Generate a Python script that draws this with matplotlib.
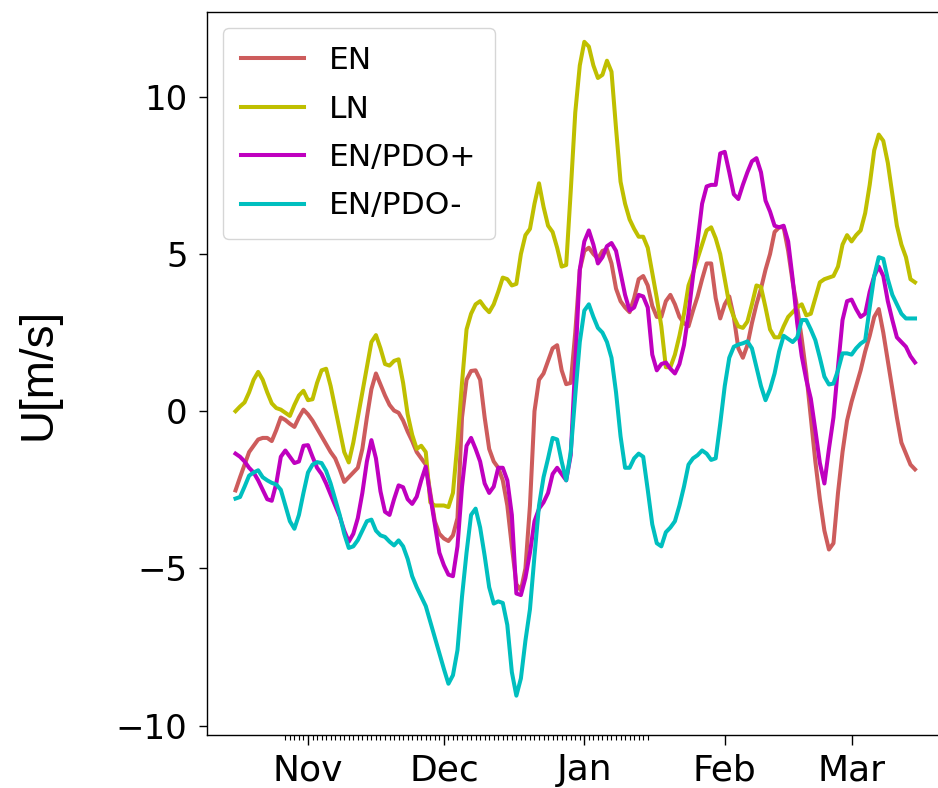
import matplotlib
matplotlib.use("Agg")
import matplotlib.pyplot as plt
import matplotlib.dates as mdates
import numpy as np
import pandas as pd

# Daily zonal wind composites, 16 Oct - 15 Mar
start_date = "2000-10-16"
n_days = 151

en = [
    -2.52, -2.1, -1.7, -1.3, -1.1, -0.9, -0.85, -0.85, -0.95, -0.6,
    -0.2, -0.28, -0.4, -0.5, -0.2, 0.05, -0.1, -0.3, -0.55, -0.8,
    -1.05, -1.3, -1.5, -1.85, -2.25, -2.1, -1.95, -1.8, -1.2, -0.2,
    0.7, 1.2, 0.85, 0.5, 0.2, 0.02, -0.05, -0.3, -0.65, -0.95,
    -1.3, -1.5, -1.7, -2.6, -3.5, -3.9, -4.05, -4.13, -3.95, -3.4,
    -0.2, 1.0, 1.28, 1.3, 1.0, -0.2, -1.2, -1.6, -1.8, -2.2,
    -3.0, -4.3, -5.5, -5.7, -5.0, -3.0, 0.0, 1.0, 1.2, 1.6,
    2.0, 2.1, 1.3, 0.86, 0.9, 2.5, 4.5, 5.1, 5.2, 5.0,
    4.85, 5.1, 5.15, 4.7, 3.9, 3.5, 3.3, 3.15, 3.6, 4.2,
    4.3, 4.0, 3.35, 3.0, 3.0, 3.5, 3.7, 3.4, 3.0, 2.8,
    2.7, 3.2, 3.65, 4.2, 4.7, 4.7, 3.6, 2.95, 3.4, 3.65,
    3.0, 2.0, 1.7, 2.1, 2.8, 3.4, 3.9, 4.5, 5.0, 5.7,
    5.85, 5.85, 5.1, 4.1, 3.3, 2.3, 1.2, -0.2, -1.6, -2.8,
    -3.8, -4.4, -4.2, -2.6, -1.3, -0.3, 0.3, 0.8, 1.3, 1.9,
    2.4, 3.0, 3.25, 2.5, 1.6, 0.7, -0.2, -1.0, -1.35, -1.7,
    -1.85,
]

ln = [
    0.0, 0.15, 0.28, 0.6, 1.0, 1.25, 1.0, 0.6, 0.25, 0.1,
    0.05, -0.05, -0.15, 0.2, 0.5, 0.65, 0.35, 0.38, 0.9, 1.3,
    1.35, 0.8, 0.1, -0.6, -1.3, -1.63, -1.0, -0.2, 0.6, 1.4,
    2.2, 2.42, 2.0, 1.5, 1.45, 1.6, 1.65, 0.9, -0.1, -0.75,
    -1.2, -1.1, -1.3, -2.9, -3.0, -3.0, -3.0, -3.05, -2.6, -1.0,
    0.9, 2.6, 3.1, 3.4, 3.5, 3.3, 3.15, 3.4, 3.8, 4.25,
    4.2, 4.0, 4.05, 5.0, 5.6, 5.8, 6.6, 7.25, 6.5, 5.9,
    5.7, 5.2, 4.6, 4.65, 7.0, 9.5, 11.0, 11.75, 11.6, 11.0,
    10.6, 10.7, 11.15, 10.8, 9.0, 7.3, 6.6, 6.1, 5.8, 5.55,
    5.55, 5.2, 4.4, 3.6, 2.7, 1.4, 1.4, 1.8, 2.4, 3.1,
    4.0, 4.4, 4.85, 5.3, 5.75, 5.85, 5.5, 5.0, 4.2, 3.4,
    3.0, 2.7, 2.65, 2.85, 3.4, 4.0, 3.95, 3.3, 2.6, 2.35,
    2.35, 2.7, 3.0, 3.15, 3.3, 3.4, 3.05, 3.1, 3.6, 4.1,
    4.2, 4.25, 4.3, 4.6, 5.3, 5.6, 5.4, 5.6, 5.75, 6.3,
    7.2, 8.3, 8.8, 8.6, 7.9, 6.9, 5.9, 5.3, 4.9, 4.2,
    4.1,
]

en_pdo_pos = [
    -1.35, -1.45, -1.6, -1.8, -1.95, -2.2, -2.5, -2.8, -2.85, -2.3,
    -1.45, -1.25, -1.45, -1.65, -1.6, -1.1, -1.08, -1.45, -1.8, -2.0,
    -2.3, -2.65, -3.0, -3.35, -3.8, -4.15, -3.9, -3.4, -2.6, -1.6,
    -0.92, -1.5, -2.55, -3.2, -3.3, -2.8, -2.36, -2.42, -2.8, -2.95,
    -2.72, -2.2, -1.76, -2.7, -3.6, -4.5, -4.9, -5.2, -5.25, -4.3,
    -2.4, -1.1, -0.85, -1.2, -1.6, -2.3, -2.6, -2.4, -1.8, -1.8,
    -2.2, -3.3, -5.8, -5.85, -5.3, -4.5, -3.5, -3.1, -2.9, -2.6,
    -2.0, -1.8, -2.0, -2.2, -1.4, 1.5, 4.5, 5.4, 5.75, 5.3,
    4.7, 4.9, 5.25, 5.35, 5.1, 4.4, 3.7, 3.2, 3.3, 3.7,
    3.65, 3.3, 1.8, 1.3, 1.5, 1.55, 1.35, 1.2, 1.5, 2.1,
    3.1, 4.3, 5.4, 6.6, 7.15, 7.2, 7.2, 8.2, 8.25, 7.6,
    6.9, 6.75, 7.2, 7.6, 7.95, 8.05, 7.6, 6.7, 6.35, 5.9,
    5.85, 5.9, 5.4, 4.2, 2.8, 1.75, 1.0, 0.4, -0.6, -1.65,
    -2.3, -1.2, -0.2, 1.4, 2.9, 3.5, 3.55, 3.25, 3.0, 3.1,
    3.8, 4.3, 4.6, 4.3, 3.5, 2.9, 2.35, 2.2, 2.05, 1.75,
    1.55,
]

en_pdo_neg = [
    -2.78, -2.73, -2.4, -2.05, -1.95, -1.88, -2.1, -2.2, -2.28, -2.33,
    -2.5, -3.0, -3.5, -3.74, -3.3, -2.6, -1.95, -1.7, -1.62, -1.65,
    -1.9, -2.3, -2.8, -3.3, -3.9, -4.35, -4.3, -4.1, -3.8, -3.5,
    -3.45, -3.8, -3.95, -4.0, -4.15, -4.27, -4.11, -4.3, -4.7, -5.25,
    -5.6, -5.9, -6.2, -6.7, -7.2, -7.7, -8.2, -8.67, -8.4, -7.6,
    -5.9, -4.5, -3.3, -3.1, -3.7, -4.6, -5.6, -6.12, -6.05, -6.1,
    -6.8, -8.3, -9.05, -8.5, -7.3, -6.3, -4.6, -3.0, -2.1, -1.5,
    -0.85, -0.9, -1.6, -2.2, -1.3, 0.5, 2.2, 3.2, 3.4, 3.0,
    2.65, 2.5, 2.2, 1.7, 0.6, -0.8, -1.8, -1.8, -1.5, -1.35,
    -1.45, -2.5, -3.6, -4.2, -4.3, -3.85, -3.7, -3.5, -3.0, -2.4,
    -1.7, -1.5, -1.4, -1.25, -1.35, -1.55, -1.5, -0.4, 0.8, 1.7,
    2.05, 2.12, 2.16, 2.22, 2.0, 1.4, 0.8, 0.35, 0.7, 1.2,
    1.9, 2.4, 2.3, 2.2, 2.35, 2.9, 2.9, 2.6, 2.26, 1.7,
    1.1, 0.85, 0.88, 1.3, 1.84, 1.84, 1.8, 2.0, 2.15, 2.25,
    3.3, 4.3, 4.9, 4.85, 4.2, 3.7, 3.4, 3.1, 2.95, 2.95,
    2.95,
]

series_labels = ["EN", "LN", "EN/PDO+", "EN/PDO-"]
series_colors = ["indianred", "y", "m", "c"]

dates = pd.date_range(start_date, periods=n_days, freq="D")

fig = plt.figure(figsize=(9.38, 7.88), dpi=100)
ax = fig.add_axes([0.2207, 0.0673, 0.791, 0.9175])

for vals, lab, col in zip([en, ln, en_pdo_pos, en_pdo_neg], series_labels, series_colors):
    ax.plot(dates, vals, color=col, lw=2.9, label=lab)

ax.set_xlim(dates[0] - pd.Timedelta(hours=151), dates[-1] + pd.Timedelta(hours=180))
ax.set_ylim(-10.3, 12.7)
ax.set_yticks([-10, -5, 0, 5, 10])

ax.xaxis.set_major_locator(mdates.MonthLocator(bymonth=[11, 12, 1, 2, 3]))
ax.xaxis.set_major_formatter(mdates.DateFormatter("%b"))
minor_days = pd.date_range("2000-10-27", "2001-01-15", freq="D")
ax.xaxis.set_minor_locator(matplotlib.ticker.FixedLocator(mdates.date2num(minor_days)))

ax.tick_params(axis="x", which="major", labelsize=26, length=7, width=1, pad=6)
ax.tick_params(axis="x", which="minor", length=3.5, width=0.8)
ax.tick_params(axis="y", labelsize=24.5, length=6, width=1, pad=8)

for sp in ax.spines.values():
    sp.set_linewidth(1.0)

ax.set_ylabel("U[m/s]", fontsize=33, family="Liberation Sans", labelpad=40)

ax.legend(loc="upper left", fontsize=22.5, labelspacing=0.62, borderpad=0.6)

fig.savefig("out.png", dpi=100)
